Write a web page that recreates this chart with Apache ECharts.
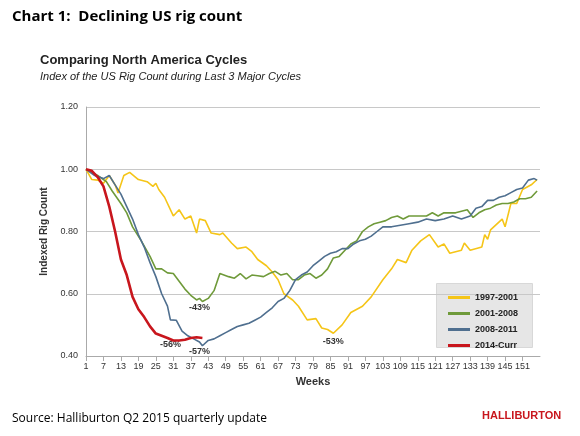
<!DOCTYPE html>
<html><head><meta charset="utf-8">
<script src="https://cdn.jsdelivr.net/npm/echarts@6/dist/echarts.min.js"></script>
<style>body{margin:0;background:#fff}#c{width:580px;height:436px}</style>
</head><body><div id="c"></div>
<script>
// weeks 1..157
var weeks = [];
for (var i = 1; i <= 157; i++) weeks.push(String(i));

var s1997 = [[1,1.0],[2.5,0.967],[5,0.965],[7,0.955],[9,0.98],[11,0.95],[12.4,0.924],[13.5,0.98],[15.8,0.99],[18.7,0.967],[21.5,0.96],[23.8,0.945],[25,0.955],[26,0.935],[28,0.91],[30.6,0.85],[33,0.87],[35,0.84],[37,0.85],[38.6,0.795],[40,0.84],[42,0.835],[43.8,0.795],[46.6,0.79],[48,0.795],[51,0.763],[53,0.745],[55.7,0.75],[58,0.735],[60.3,0.71],[63,0.69],[65,0.67],[67,0.645],[69.4,0.6],[72,0.58],[74,0.56],[77,0.516],[80,0.52],[82,0.49],[84,0.485],[86,0.473],[88.8,0.5],[92,0.54],[95.6,0.56],[99,0.59],[102.5,0.645],[106,0.68],[108,0.71],[110.5,0.7],[113,0.74],[116,0.77],[119,0.79],[122,0.75],[124,0.76],[126.4,0.73],[130,0.74],[131,0.763],[133,0.74],[136.7,0.75],[138,0.79],[139,0.775],[140,0.805],[143.5,0.84],[144.7,0.815],[147,0.89],[149,0.89],[151,0.935],[154,0.95],[155.5,0.967]];
var s2001 = [[1,1.0],[5,0.98],[8,0.96],[10,0.93],[13,0.89],[15,0.86],[17,0.815],[20,0.77],[23,0.72],[25,0.68],[27,0.68],[29,0.667],[31,0.665],[33,0.64],[35,0.615],[37,0.595],[39,0.58],[40,0.585],[41,0.575],[43,0.585],[45,0.61],[47,0.665],[50,0.655],[52,0.65],[54,0.665],[56,0.648],[58,0.66],[60,0.658],[62,0.655],[64,0.665],[66,0.672],[68,0.66],[70,0.665],[72,0.645],[74,0.645],[76,0.66],[78,0.665],[80,0.65],[82,0.66],[84,0.68],[86,0.715],[88,0.72],[90,0.74],[92,0.76],[94,0.77],[96,0.8],[98,0.815],[100,0.825],[102,0.83],[104,0.835],[106,0.845],[108,0.85],[110,0.84],[112,0.85],[115,0.85],[118,0.85],[120,0.86],[122,0.85],[124,0.86],[126,0.86],[128,0.86],[130,0.865],[132,0.87],[134,0.845],[136,0.86],[138,0.87],[140,0.875],[142,0.885],[144,0.89],[146,0.89],[148,0.895],[150,0.905],[152,0.905],[154,0.91],[156,0.93]];
var s2008 = [[1,1.0],[4,0.98],[7,0.97],[9,0.98],[11,0.95],[13,0.92],[15,0.88],[17,0.84],[19,0.79],[21,0.75],[23,0.7],[25,0.655],[27,0.6],[29,0.56],[30,0.516],[32,0.515],[34,0.48],[36,0.465],[38,0.455],[40,0.445],[41,0.433],[43,0.45],[45,0.455],[47,0.465],[49,0.475],[51,0.485],[53,0.495],[55,0.5],[57,0.505],[59,0.515],[61,0.525],[63,0.54],[65,0.555],[67,0.575],[69,0.585],[71,0.61],[73,0.645],[75,0.66],[77,0.67],[79,0.69],[81,0.705],[83,0.72],[85,0.73],[87,0.735],[89,0.745],[91,0.745],[93,0.76],[95,0.77],[97,0.775],[99,0.785],[101,0.8],[103,0.815],[106,0.815],[109,0.82],[112,0.825],[115,0.83],[118,0.84],[121,0.835],[124,0.84],[127,0.85],[130,0.84],[133,0.85],[135,0.875],[137,0.88],[139,0.9],[141,0.9],[143,0.91],[145,0.915],[147,0.925],[149,0.935],[151,0.94],[153,0.965],[155,0.97],[156,0.965]];
var s2014 = [[1,1.0],[3,0.995],[5,0.975],[7,0.945],[9,0.88],[11,0.8],[13,0.71],[15,0.66],[17,0.59],[19,0.55],[21,0.525],[23,0.495],[25,0.472],[27,0.465],[29,0.458],[31,0.45],[33,0.45],[35,0.452],[37,0.458],[39,0.46],[41,0.458]];

var yTicks = [0.4, 0.6, 0.8, 1.0, 1.2];
var troughs = [['-43%',40,0.555],['-53%',86,0.445],['-56%',30,0.437],['-57%',40,0.415]];

function toIdx(arr){ return arr.map(function(p){ return [p[0]-1, p[1]]; }); }

var chart = echarts.init(document.getElementById('c'));
var font = '"Liberation Sans", Arial, sans-serif';
function line(name, data, color, w){
  return {name:name, type:'line', data:toIdx(data), showSymbol:false, symbol:'none',
    lineStyle:{color:color, width:w}, itemStyle:{color:color}, z: w>2?5:3};
}
var series = [
  line('1997-2001', s1997, '#f5c518', 1.6),
  line('2001-2008', s2001, '#6f9a3a', 1.6),
  line('2008-2011', s2008, '#4f6f8f', 1.6),
  line('2014-Curr', s2014, '#c8161d', 2.6)
];
series[0].markPoint = {symbolSize:0, data: troughs.map(function(t){
  return {coord:[t[1]-1, t[2]], label:{show:true, formatter:t[0], color:'#333', fontSize:9, fontWeight:'bold', fontFamily:font}};
})};

chart.setOption({
  animation:false,
  textStyle:{fontFamily:font},
  graphic:[
    {type:'text', left:12, top:9, style:{text:'Chart 1:  Declining US rig count', font:'bold 15px "Open Sans", sans-serif', fill:'#000'}},
    {type:'text', left:40, top:54, style:{text:'Comparing North America Cycles', font:'bold 13px '+font, fill:'#222'}},
    {type:'text', left:40, top:71, style:{text:'Index of the US Rig Count during Last 3 Major Cycles', font:'italic 11px '+font, fill:'#222'}},
    {type:'text', left:12, top:413, style:{text:'Source: Halliburton Q2 2015 quarterly update', font:'12px "Open Sans", sans-serif', fill:'#000'}},
    {type:'text', left:482, top:410, style:{text:'HALLIBURTON', font:'bold 11px '+font, fill:'#c8161d'}},
    {type:'rect', left:436, top:283, shape:{width:96, height:64}, style:{fill:'#e6e6e6', stroke:'#d8d8d8'}, z:0}
  ],
  legend:{orient:'vertical', left:443, top:288, itemWidth:22, itemHeight:3, itemGap:7, icon:'rect',
    textStyle:{fontSize:9, fontWeight:'bold', color:'#222'}, data:['1997-2001','2001-2008','2008-2011','2014-Curr'], z:10},
  grid:{left:86, right:40, top:107, bottom:80},
  xAxis:{type:'category', data:weeks, boundaryGap:false,
    name:'Weeks', nameLocation:'middle', nameGap:20, nameTextStyle:{fontWeight:'bold', fontSize:11, color:'#333'},
    axisLine:{lineStyle:{color:'#aaa'}}, axisTick:{show:true, interval:5, lineStyle:{color:'#aaa'}},
    axisLabel:{interval:5, fontSize:9, color:'#333', margin:6, showMaxLabel:false}, splitLine:{show:false}},
  yAxis:{type:'value', min:yTicks[0], max:yTicks[yTicks.length-1], interval:0.2,
    name:'Indexed Rig Count', nameLocation:'middle', nameGap:30, nameTextStyle:{fontWeight:'bold', fontSize:10, color:'#333'},
    axisLine:{show:true, lineStyle:{color:'#aaa'}}, axisTick:{show:false},
    axisLabel:{formatter:function(v){return v.toFixed(2);}, fontSize:9, color:'#333'},
    splitLine:{lineStyle:{color:'#c8c8c8'}}},
  series:series
});
</script></body></html>
